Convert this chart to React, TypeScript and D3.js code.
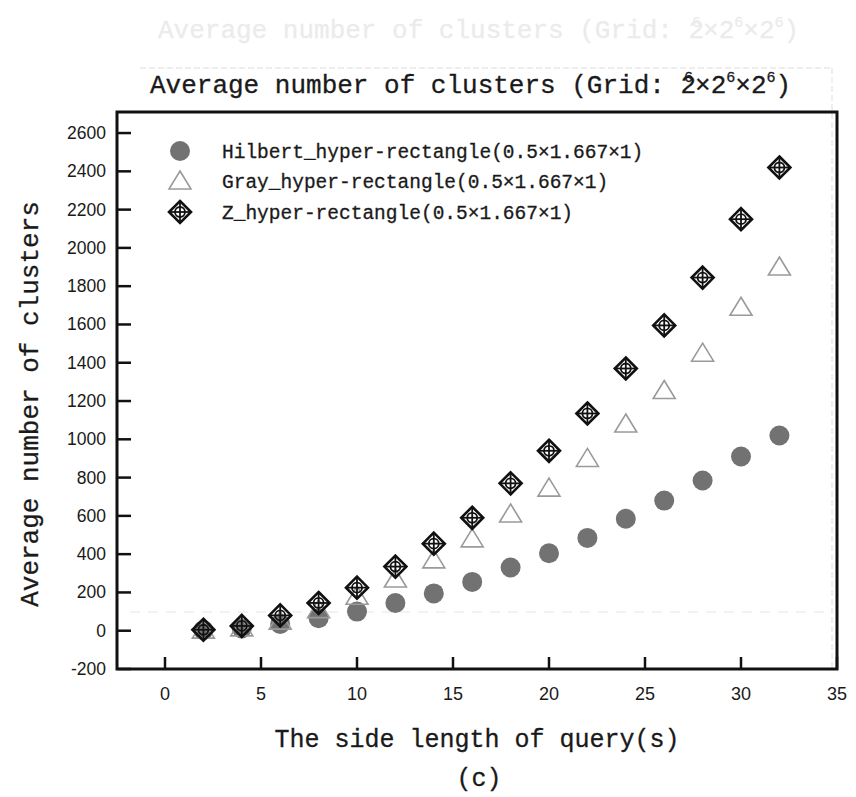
import React from "react";
import * as d3 from "d3";

// Side length of the query (s)
const sideLengths = [2, 4, 6, 8, 10, 12, 14, 16, 18, 20, 22, 24, 26, 28, 30, 32];

// Average number of clusters per curve
const hilbertValues = [3, 12, 35, 65, 100, 145, 195, 255, 330, 405, 485, 585, 680, 785, 910, 1020];
const grayValues = [3, 15, 50, 110, 180, 270, 370, 480, 610, 745, 900, 1080, 1255, 1450, 1690, 1900];
const zValues = [5, 25, 80, 145, 225, 335, 455, 590, 770, 940, 1135, 1370, 1595, 1845, 2150, 2420];

const xTicks = [0, 5, 10, 15, 20, 25, 30, 35];
const yTicks = [-200, 0, 200, 400, 600, 800, 1000, 1200, 1400, 1600, 1800, 2000, 2200, 2400, 2600];

const legendLabels = [
  "Hilbert_hyper-rectangle(0.5×1.667×1)",
  "Gray_hyper-rectangle(0.5×1.667×1)",
  "Z_hyper-rectangle(0.5×1.667×1)",
];

const W = 856;
const H = 797;
const left = 117;
const right = 837;
const top = 112;
const bottom = 669;

const mono = "'Courier New', 'Nimbus Mono PS', FreeMono, 'Liberation Mono', monospace";
const sans = "'Liberation Sans', Arial, sans-serif";
const narrow = "'Liberation Sans Narrow', 'Liberation Sans', Arial, sans-serif";

const x = d3.scaleLinear().domain([-2.5, 35]).range([left, right]);
const y = d3.scaleLinear().domain([-200, 2710]).range([bottom, top]);

function Circle({ cx, cy }: { cx: number; cy: number }) {
  return <circle cx={cx} cy={cy} r={10} fill="#727272" />;
}

function Triangle({ cx, cy }: { cx: number; cy: number }) {
  const path = d3.path();
  path.moveTo(cx, cy - 10);
  path.lineTo(cx + 11, cy + 8);
  path.lineTo(cx - 11, cy + 8);
  path.closePath();
  return <path d={path.toString()} fill="none" stroke="#9a9a9a" strokeWidth={1.6} />;
}

function Diamond({ cx, cy }: { cx: number; cy: number }) {
  const s = 11;
  const path = d3.path();
  path.moveTo(cx, cy - s);
  path.lineTo(cx + s, cy);
  path.lineTo(cx, cy + s);
  path.lineTo(cx - s, cy);
  path.closePath();
  return (
    <g stroke="#111" fill="none" strokeWidth={2.6}>
      <path d={path.toString()} />
      <circle cx={cx} cy={cy} r={5} strokeWidth={1.8} />
      <line x1={cx - s} y1={cy} x2={cx + s} y2={cy} strokeWidth={1.8} />
      <line x1={cx} y1={cy - s} x2={cx} y2={cy + s} strokeWidth={1.8} />
    </g>
  );
}

function Title({ tx, ty, fill }: { tx: number; ty: number; fill: string }) {
  return (
    <text x={tx} y={ty} fontFamily={mono} fontSize={26} fill={fill} stroke={fill} strokeWidth={0.3}>
      <tspan>Average number of clusters (Grid: 2</tspan>
      <tspan dx={-12} dy={-11} fontSize={15}>6</tspan>
      <tspan dx={2} dy={11}>×2</tspan>
      <tspan dy={-11} fontSize={15}>6</tspan>
      <tspan dy={11}>×2</tspan>
      <tspan dy={-11} fontSize={15}>6</tspan>
      <tspan dy={11}>)</tspan>
    </text>
  );
}

export default function App() {
  const legendY = [151, 181, 212];
  return (
    <svg width={W} height={H} style={{ display: "block", position: "absolute", left: 0, top: 0 }}>
      <rect width={W} height={H} fill="#fff" />

      {/* faint show-through frame and title */}
      <g opacity={0.45}>
        <Title tx={158} ty={38} fill="#d4d4d4" />
        <line x1={140} y1={68} x2={832} y2={68} stroke="#cfcfcf" strokeWidth={1.5} strokeDasharray="6 3" />
        <line x1={832} y1={68} x2={832} y2={668} stroke="#cfcfcf" strokeWidth={1.5} strokeDasharray="6 3" />
        <line x1={130} y1={612} x2={830} y2={612} stroke="#dcdcdc" strokeWidth={1.5} strokeDasharray="10 8" />
      </g>

      <Title tx={150} ty={93} fill="#1a1a1a" />

      {/* y ticks */}
      {yTicks.map((t) => (
        <g key={`y${t}`}>
          <line x1={left} x2={left + 14} y1={y(t)} y2={y(t)} stroke="#111" strokeWidth={2.5} />
          <text x={106} y={y(t) + 6} textAnchor="end" fontFamily={sans} fontSize={17.5} fill="#1a1a1a">
            {t}
          </text>
        </g>
      ))}

      {/* x ticks */}
      {xTicks.map((t) => (
        <g key={`x${t}`}>
          <line x1={x(t)} x2={x(t)} y1={bottom} y2={bottom - 12} stroke="#111" strokeWidth={2.5} />
          <text x={x(t)} y={700} textAnchor="middle" fontFamily={narrow} fontSize={18} fill="#1a1a1a">
            {t}
          </text>
        </g>
      ))}

      {/* data */}
      {sideLengths.map((s, i) => (
        <Circle key={`h${s}`} cx={x(s)} cy={y(hilbertValues[i])} />
      ))}
      {sideLengths.map((s, i) => (
        <Triangle key={`g${s}`} cx={x(s)} cy={y(grayValues[i])} />
      ))}
      {sideLengths.map((s, i) => (
        <Diamond key={`z${s}`} cx={x(s)} cy={y(zValues[i])} />
      ))}

      {/* legend */}
      <Circle cx={180} cy={legendY[0]} />
      <Triangle cx={180} cy={legendY[1]} />
      <Diamond cx={180} cy={legendY[2]} />
      {legendLabels.map((l, i) => (
        <text key={l} x={222} y={legendY[i] + 7} fontFamily={mono} fontSize={19.5} fill="#1a1a1a" stroke="#1a1a1a" strokeWidth={0.3}>
          {l}
        </text>
      ))}

      {/* frame */}
      <rect x={left} y={top} width={right - left} height={bottom - top} fill="none" stroke="#111" strokeWidth={3} />

      {/* axis titles */}
      <text transform={`translate(38,404) rotate(-90)`} textAnchor="middle" fontFamily={mono} fontSize={26} fill="#1a1a1a" stroke="#1a1a1a" strokeWidth={0.3}>
        Average number of clusters
      </text>
      <text x={477} y={747} textAnchor="middle" fontFamily={mono} fontSize={25} fill="#1a1a1a" stroke="#1a1a1a" strokeWidth={0.3}>
        The side length of query(s)
      </text>
      <text x={479} y={786} textAnchor="middle" fontFamily={mono} fontSize={25} fill="#1a1a1a" stroke="#1a1a1a" strokeWidth={0.3}>
        (c)
      </text>
    </svg>
  );
}
